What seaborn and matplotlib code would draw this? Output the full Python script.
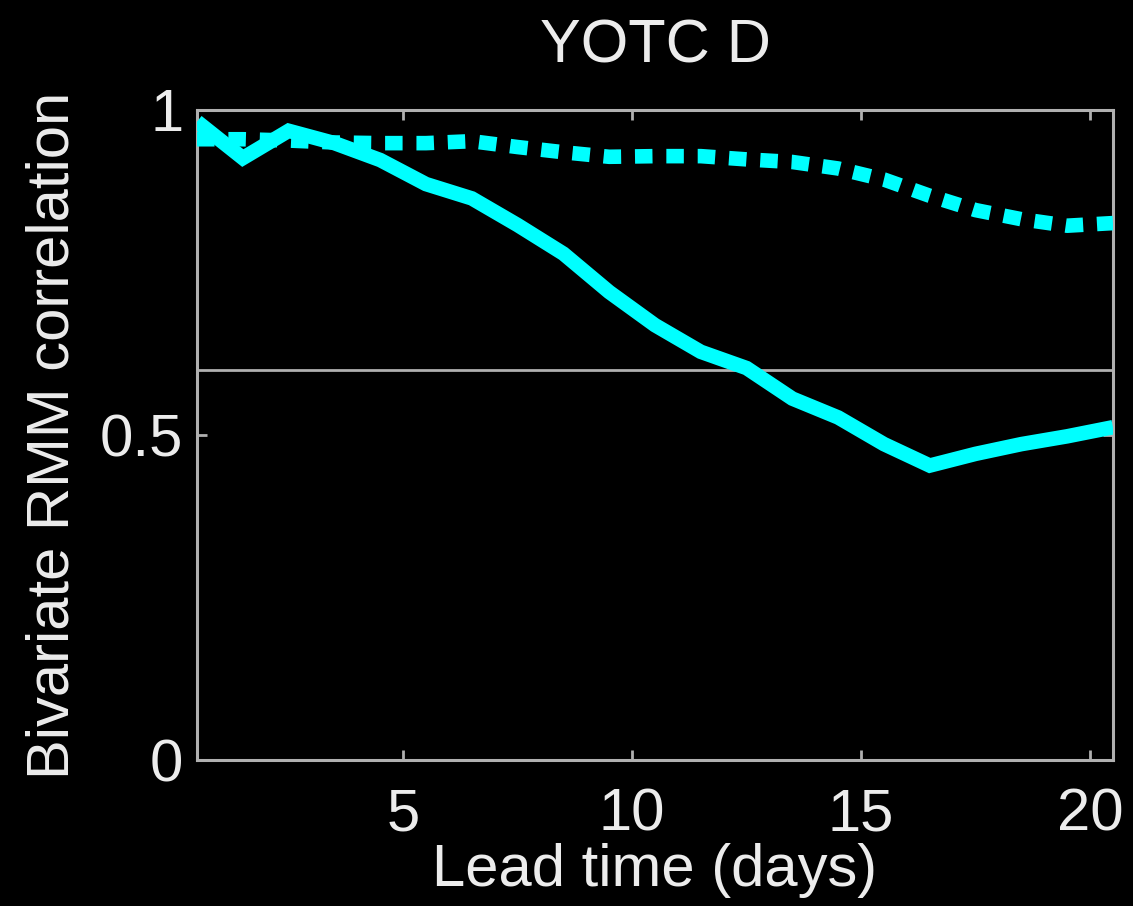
import matplotlib
matplotlib.use("Agg")
import matplotlib.pyplot as plt
import numpy as np
import pandas as pd
import seaborn as sns

# Lead times (days) and bivariate RMM correlation for the two forecast sets
lead_days = [0.5, 1.5, 2.5, 3.5, 4.5, 5.5, 6.5, 7.5, 8.5, 9.5, 10.5,
             11.5, 12.5, 13.5, 14.5, 15.5, 16.5, 17.5, 18.5, 19.5, 20.5]
corr_solid = [0.982, 0.926, 0.968, 0.949, 0.923, 0.886, 0.864, 0.823, 0.779, 0.720, 0.669,
              0.628, 0.603, 0.556, 0.527, 0.486, 0.453, 0.471, 0.486, 0.498, 0.512]
corr_dotted = [0.955, 0.955, 0.953, 0.950, 0.949, 0.949, 0.952, 0.943, 0.935, 0.928, 0.929,
               0.929, 0.924, 0.920, 0.910, 0.893, 0.868, 0.846, 0.832, 0.822, 0.826]
threshold = 0.6
x_ticks = [5, 10, 15, 20]
y_ticks = [0, 0.5, 1]
y_tick_labels = ["0", "0.5", "1"]

title = "YOTC D"
x_label = "Lead time (days)"
y_label = "Bivariate RMM correlation"

df = pd.DataFrame({"lead": lead_days, "solid": corr_solid, "dotted": corr_dotted})

sns.set_theme(style="dark")
plt.rcParams["font.family"] = ["Liberation Sans", "DejaVu Sans"]

text_col = "#ececec"
frame_col = "#b0b0b0"
line_col = "#00ffff"

fig = plt.figure(figsize=(11.33, 9.06), dpi=100, facecolor="black")
ax = fig.add_axes([0.1739, 0.1611, 0.8084, 0.7175], facecolor="black")

ax.axhline(threshold, color=frame_col, lw=2.0, zorder=1)

sns.lineplot(data=df, x="lead", y="dotted", ax=ax, color=line_col, lw=10.5, zorder=3)
dotted_line = ax.lines[-1]
dotted_line.set_dashes((1.2, 0.95))
dotted_line.set_dash_capstyle("butt")

sns.lineplot(data=df, x="lead", y="solid", ax=ax, color=line_col, lw=10.5, zorder=4)
solid_line = ax.lines[-1]
solid_line.set_solid_capstyle("butt")
solid_line.set_solid_joinstyle("miter")

ax.set_xlim(0.5, 20.5)
ax.set_ylim(0, 1)
ax.set_xticks(x_ticks)
ax.set_yticks(y_ticks)
ax.set_yticklabels(y_tick_labels)
ax.grid(False)

for s in ax.spines.values():
    s.set_visible(True)
    s.set_color(frame_col)
    s.set_linewidth(2.2)

ax.tick_params(axis="both", direction="in", length=7, width=2, color=frame_col,
               labelcolor=text_col, labelsize=43, top=True, right=True,
               bottom=True, left=True)
ax.tick_params(axis="x", pad=20)
ax.tick_params(axis="y", pad=10)

ax.set_title(title, color=text_col, fontsize=44, pad=34)
ax.set_xlabel(x_label, color=text_col, fontsize=43, labelpad=0)
ax.set_ylabel(y_label, color=text_col, fontsize=43, labelpad=14)

fig.savefig("out.png", dpi=100, facecolor="black")
